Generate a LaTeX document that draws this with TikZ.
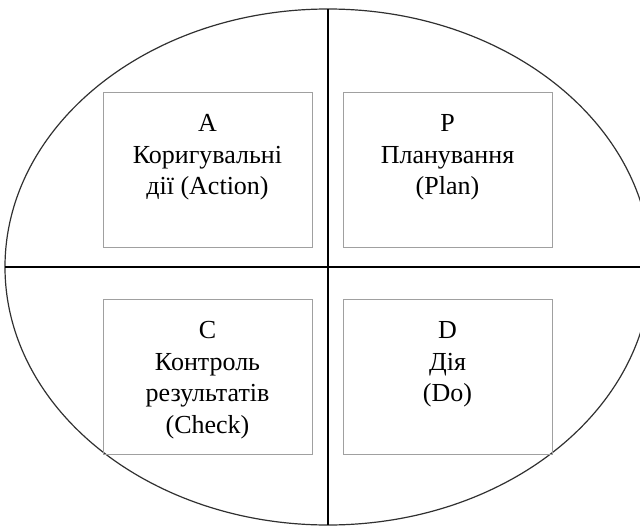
\documentclass[tikz,border=0pt]{standalone}
\usepackage{fontspec}
\setmainfont{Liberation Serif}
\usetikzlibrary{shapes.geometric}
\definecolor{boxgray}{HTML}{A0A0A0}
\definecolor{ringgray}{HTML}{303030}
\tikzset{
  ring/.style={ellipse, draw=ringgray, line width=1.2pt, inner sep=0pt, outer sep=0pt,
    minimum width=646pt, minimum height=516pt},
  divider/.style={draw=black, line width=1.4pt},
  pdcabox/.style={rectangle, draw=boxgray, line width=1pt, inner sep=0pt, outer sep=0pt, anchor=north west}
}
\newcommand{\pdcatext}[1]{\parbox[c][155pt][t]{209pt}{\centering\fontsize{26}{31.7}\selectfont\rule{0pt}{39.5pt}#1}}
\begin{document}
\begin{tikzpicture}[x=1pt,y=1pt]
\useasboundingbox (0,0) rectangle (640,-525);
\clip (0,0) rectangle (640,-525);
\node[ring] (e) at (328,-267) {};
\draw[divider] (e.north) -- (e.south);
\draw[divider] (e.west) -- (e.east);
\node[pdcabox] (a) at (103,-92) {\pdcatext{A\\Коригувальні\\дії (Action)}};
\node[pdcabox] (p) at (343,-92) {\pdcatext{P\\Планування\\(Plan)}};
\node[pdcabox] (c) at (103,-299) {\pdcatext{C\\Контроль\\результатів\\(Check)}};
\node[pdcabox] (d) at (343,-299) {\pdcatext{D\\Дія\\(Do)}};
\end{tikzpicture}
\end{document}
